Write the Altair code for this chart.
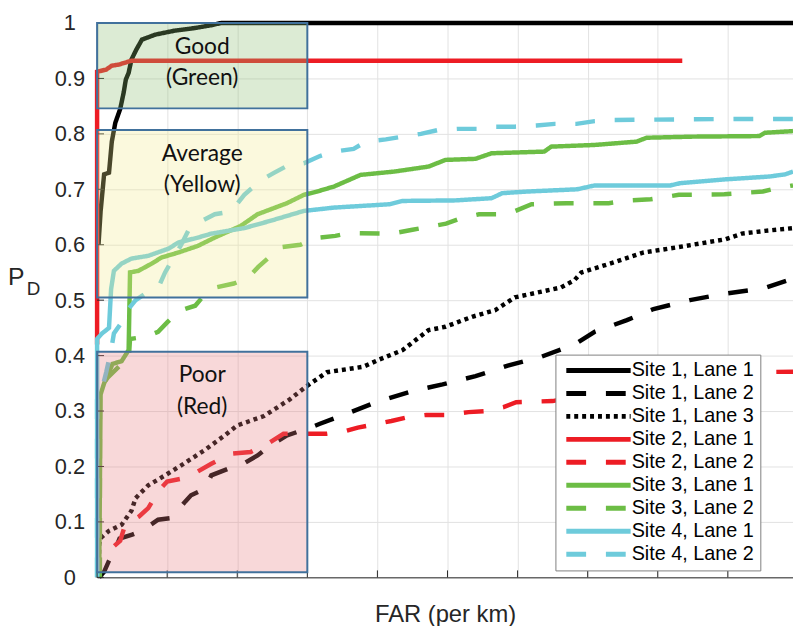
import altair as alt
import pandas as pd

# ---------------- data ----------------
series = ["Site 1, Lane 1", "Site 1, Lane 2", "Site 1, Lane 3",
          "Site 2, Lane 1", "Site 2, Lane 2",
          "Site 3, Lane 1", "Site 3, Lane 2",
          "Site 4, Lane 1", "Site 4, Lane 2"]
colors = ["#000000", "#000000", "#000000", "#ed1c24", "#ed1c24",
          "#6cbd45", "#6cbd45", "#6ecbdb", "#6ecbdb"]
dashes = [[1, 0], [20, 20], [4, 4], [1, 0], [20, 20], [1, 0], [20, 20], [1, 0], [20, 20]]

s1l1_x = [0.02, 0.03, 0.05, 0.10, 0.17, 0.21, 0.26, 0.33, 0.38, 0.41, 0.45, 0.49, 0.56, 0.64, 0.83, 1.10, 1.40, 1.63, 1.77, 9.93]
s1l1_y = [0.60, 0.62, 0.66, 0.727, 0.73, 0.786, 0.82, 0.845, 0.875, 0.898, 0.91, 0.934, 0.952, 0.97, 0.979, 0.986, 0.991, 0.996, 1.0, 1.0]

s1l2_x = [0.03, 0.10, 0.17, 0.27, 0.32, 0.50, 0.64, 0.87, 1.06, 1.26, 1.34, 1.54, 1.63, 1.87, 2.05, 2.29, 2.47, 2.71, 2.85, 3.00, 3.18, 3.56, 3.98, 4.50, 4.93, 5.40, 5.86, 6.34, 6.81, 7.10, 7.56, 7.94, 8.46, 8.97, 9.50, 9.93]
s1l2_y = [0.0, 0.01, 0.03, 0.054, 0.07, 0.077, 0.084, 0.104, 0.107, 0.137, 0.148, 0.16, 0.184, 0.196, 0.202, 0.22, 0.238, 0.256, 0.262, 0.268, 0.277, 0.295, 0.316, 0.336, 0.348, 0.363, 0.382, 0.398, 0.42, 0.443, 0.464, 0.484, 0.50, 0.512, 0.521, 0.539]

s1l3_x = [0.02, 0.03, 0.05, 0.17, 0.35, 0.49, 0.55, 0.73, 0.97, 1.20, 1.54, 1.82, 2.00, 2.38, 2.75, 2.99, 3.28, 3.80, 4.03, 4.36, 4.73, 4.97, 5.35, 5.68, 5.96, 6.62, 6.81, 6.91, 7.37, 7.80, 8.26, 8.50, 8.97, 9.20, 9.53, 9.93]
s1l3_y = [0.0, 0.06, 0.071, 0.084, 0.095, 0.12, 0.143, 0.166, 0.184, 0.202, 0.23, 0.256, 0.274, 0.291, 0.321, 0.345, 0.37, 0.38, 0.393, 0.41, 0.446, 0.452, 0.47, 0.482, 0.505, 0.523, 0.536, 0.55, 0.568, 0.586, 0.595, 0.60, 0.61, 0.62, 0.625, 0.63]

s2l1_x = [0.0, 0.0, 0.13, 0.21, 0.31, 0.49, 8.35]
s2l1_y = [0.42, 0.912, 0.916, 0.923, 0.925, 0.932, 0.932]

s2l2_x = [0.01, 0.02, 0.17, 0.33, 0.40, 0.60, 0.73, 0.87, 1.00, 1.20, 1.34, 1.63, 1.91, 2.19, 2.47, 2.66, 3.27, 3.55, 3.72, 4.20, 4.43, 4.70, 5.00, 5.30, 5.55, 5.80, 5.98, 6.50, 7.00, 7.80, 8.50, 9.30, 9.93]
s2l2_y = [0.0, 0.036, 0.048, 0.066, 0.095, 0.11, 0.125, 0.155, 0.173, 0.178, 0.184, 0.205, 0.223, 0.226, 0.244, 0.259, 0.259, 0.264, 0.27, 0.282, 0.289, 0.293, 0.293, 0.298, 0.30, 0.307, 0.316, 0.318, 0.33, 0.355, 0.368, 0.37, 0.371]

s3l1_x = [0.03, 0.05, 0.10, 0.17, 0.22, 0.35, 0.45, 0.47, 0.59, 0.78, 0.92, 1.16, 1.44, 1.68, 2.05, 2.29, 2.71, 2.95, 3.14, 3.38, 3.76, 4.24, 4.73, 4.97, 5.40, 5.63, 6.38, 6.48, 7.10, 7.70, 7.84, 8.50, 9.45, 9.53, 9.93]
s3l1_y = [0.0, 0.33, 0.35, 0.37, 0.385, 0.39, 0.41, 0.55, 0.553, 0.566, 0.577, 0.586, 0.598, 0.613, 0.634, 0.655, 0.675, 0.69, 0.696, 0.705, 0.726, 0.732, 0.741, 0.753, 0.755, 0.765, 0.768, 0.777, 0.78, 0.786, 0.793, 0.795, 0.796, 0.802, 0.805]

s3l2_x = [0.04, 0.04, 0.15, 0.35, 0.45, 0.47, 0.70, 0.87, 1.00, 1.16, 1.40, 1.50, 1.70, 1.95, 2.15, 2.30, 2.45, 2.60, 2.90, 3.10, 3.40, 3.60, 4.20, 4.50, 4.98, 5.20, 5.45, 5.70, 5.95, 6.20, 6.70, 7.30, 7.60, 7.90, 8.30, 8.95, 9.50, 9.70, 9.93]
s3l2_y = [0.0, 0.34, 0.36, 0.385, 0.39, 0.43, 0.434, 0.443, 0.46, 0.48, 0.49, 0.505, 0.523, 0.53, 0.54, 0.56, 0.577, 0.595, 0.60, 0.612, 0.616, 0.621, 0.62, 0.627, 0.638, 0.648, 0.655, 0.655, 0.66, 0.673, 0.675, 0.675, 0.68, 0.682, 0.69, 0.691, 0.696, 0.702, 0.707]

s4l1_x = [0.0, 0.0, 0.07, 0.17, 0.20, 0.24, 0.35, 0.49, 0.73, 1.02, 1.16, 1.44, 1.63, 2.10, 2.47, 2.95, 3.38, 4.17, 4.36, 5.12, 5.63, 5.78, 6.14, 6.85, 7.10, 8.18, 8.32, 8.97, 9.59, 9.82, 9.93]
s4l1_y = [0.0, 0.43, 0.44, 0.45, 0.52, 0.553, 0.566, 0.575, 0.58, 0.593, 0.604, 0.613, 0.62, 0.63, 0.643, 0.661, 0.667, 0.673, 0.679, 0.68, 0.684, 0.693, 0.696, 0.70, 0.707, 0.707, 0.711, 0.718, 0.723, 0.727, 0.732]

s4l2_x = [0.0, 0.0, 0.07, 0.13, 0.20, 0.24, 0.35, 0.42, 0.55, 0.90, 0.97, 1.20, 1.30, 1.40, 1.68, 1.91, 2.10, 2.19, 2.39, 2.53, 2.75, 2.95, 3.18, 3.38, 3.66, 3.84, 4.12, 4.36, 4.62, 4.87, 5.14, 5.42, 5.68, 5.96, 6.27, 6.53, 6.84, 7.10, 7.37, 9.14, 9.93]
s4l2_y = [0.0, 0.33, 0.34, 0.37, 0.41, 0.44, 0.46, 0.48, 0.50, 0.53, 0.55, 0.60, 0.625, 0.637, 0.655, 0.66, 0.69, 0.70, 0.72, 0.73, 0.745, 0.747, 0.76, 0.768, 0.773, 0.786, 0.79, 0.795, 0.80, 0.807, 0.809, 0.809, 0.813, 0.813, 0.815, 0.818, 0.818, 0.823, 0.825, 0.827, 0.827]

series_x = [s1l1_x, s1l2_x, s1l3_x, s2l1_x, s2l2_x, s3l1_x, s3l2_x, s4l1_x, s4l2_x]
series_y = [s1l1_y, s1l2_y, s1l3_y, s2l1_y, s2l2_y, s3l1_y, s3l2_y, s4l1_y, s4l2_y]

# quality regions
box_names = ["Good", "Average", "Poor"]
box_labels = [["Good", "(Green)"], ["Average", "(Yellow)"], ["Poor", "(Red)"]]
box_x1 = [0, 0, 0]
box_x2 = [3, 3, 3]
box_bottom = [0.846, 0.505, 0.009]
box_top = [1.0, 0.807, 0.407]
box_fills = ["#8abc70", "#f2eb8e", "#e87d80"]

x_grid = [0, 1, 2, 3, 4, 5, 6, 7, 8, 9]
y_ticks = [0, 0.1, 0.2, 0.3, 0.4, 0.5, 0.6, 0.7, 0.8, 0.9, 1.0]

# ---------------- tables ----------------
rows = []
for name, xs, ys in zip(series, series_x, series_y):
    for i, (xv, yv) in enumerate(zip(xs, ys)):
        rows.append({"series": name, "x": xv, "y": yv, "i": i})
df = pd.DataFrame(rows)

boxes = pd.DataFrame({"name": box_names, "x1": box_x1, "x2": box_x2,
                      "y1": box_bottom, "y2": box_top, "label": box_labels})

XMAX = 9.93
xscale = alt.Scale(domain=[0, XMAX], nice=False, zero=False)
yscale = alt.Scale(domain=[0, 1], nice=False)
AX = "#262626"
FONT = "Liberation Sans"

base = alt.Chart(df)

lines = base.mark_line(strokeWidth=4.5, strokeCap="butt", strokeJoin="miter").encode(
    x=alt.X("x:Q", scale=xscale,
            axis=alt.Axis(values=x_grid, labels=False, ticks=False, grid=True,
                          gridColor="#e2e2e2", domainColor=AX, title="FAR (per km)",
                          titleFont=FONT, titleFontSize=24, titleFontWeight="normal",
                          titleColor=AX, titlePadding=26)),
    y=alt.Y("y:Q", scale=yscale,
            axis=alt.Axis(values=y_ticks, format="~g", ticks=False, grid=True,
                          gridColor="#e2e2e2", domainColor=AX, title=None,
                          labelFont=FONT, labelFontSize=22, labelColor=AX,
                          labelAlign="center", labelPadding=28)),
    color=alt.Color("series:N", scale=alt.Scale(domain=series, range=colors),
                    legend=alt.Legend(title=None)),
    strokeDash=alt.StrokeDash("series:N", scale=alt.Scale(domain=series, range=dashes),
                              legend=alt.Legend(title=None)),
    order="i:Q",
)

xticks = alt.Chart(pd.DataFrame({"t": x_grid})).mark_rule(color=AX, strokeWidth=1).encode(
    x=alt.X("t:Q", scale=xscale), y=alt.value(560), y2=alt.value(553))
yticks = alt.Chart(pd.DataFrame({"t": y_ticks})).mark_rule(color=AX, strokeWidth=1).encode(
    y=alt.Y("t:Q", scale=yscale), x=alt.value(0), x2=alt.value(7))

rects = alt.Chart(boxes).mark_rect(fillOpacity=0.3, stroke="#41719c", strokeWidth=2).encode(
    x=alt.X("x1:Q", scale=xscale), x2="x2:Q",
    y=alt.Y("y1:Q", scale=yscale), y2="y2:Q",
    fill=alt.Fill("name:N", scale=alt.Scale(domain=box_names, range=box_fills), legend=None),
)

rect_text = alt.Chart(boxes).transform_calculate(
    xc="(datum.x1 + datum.x2) / 2"
).mark_text(font="Lato", fontSize=23, color="#111111", baseline="alphabetic",
            align="center", dy=31, lineHeight=32).encode(
    x=alt.X("xc:Q", scale=xscale), y=alt.Y("y2:Q", scale=yscale), text="label")

pd_title = pd.DataFrame({"p": ["P"], "d": ["D"]})
p_text = alt.Chart(pd_title).mark_text(font=FONT, fontSize=25, color=AX, align="left",
                                       baseline="alphabetic").encode(
    x=alt.value(-90), y=alt.value(265), text="p:N")
d_text = alt.Chart(pd_title).mark_text(font=FONT, fontSize=19, color=AX, align="left",
                                       baseline="alphabetic").encode(
    x=alt.value(-71), y=alt.value(275), text="d:N")

chart = alt.layer(lines, xticks, yticks, rects, rect_text, p_text, d_text).properties(
    width=703, height=560,
    autosize=alt.AutoSizeParams(type="none"),
    padding={"left": 90, "top": 12, "right": 0, "bottom": 46},
).configure_view(stroke=None).configure_legend(
    orient="none", legendX=463, legendY=335,
    symbolType="M-1,0H12", symbolSize=100,
    symbolStrokeWidth=5, labelFontSize=20, labelFont=FONT, labelColor="#000000",
    labelOffset=51, padding=6, strokeColor="#808080", fillColor="#ffffff",
    labelLimit=0, rowPadding=3.2, cornerRadius=0,
)

chart.save("out.html", embed_options={"renderer": "svg", "actions": False})
